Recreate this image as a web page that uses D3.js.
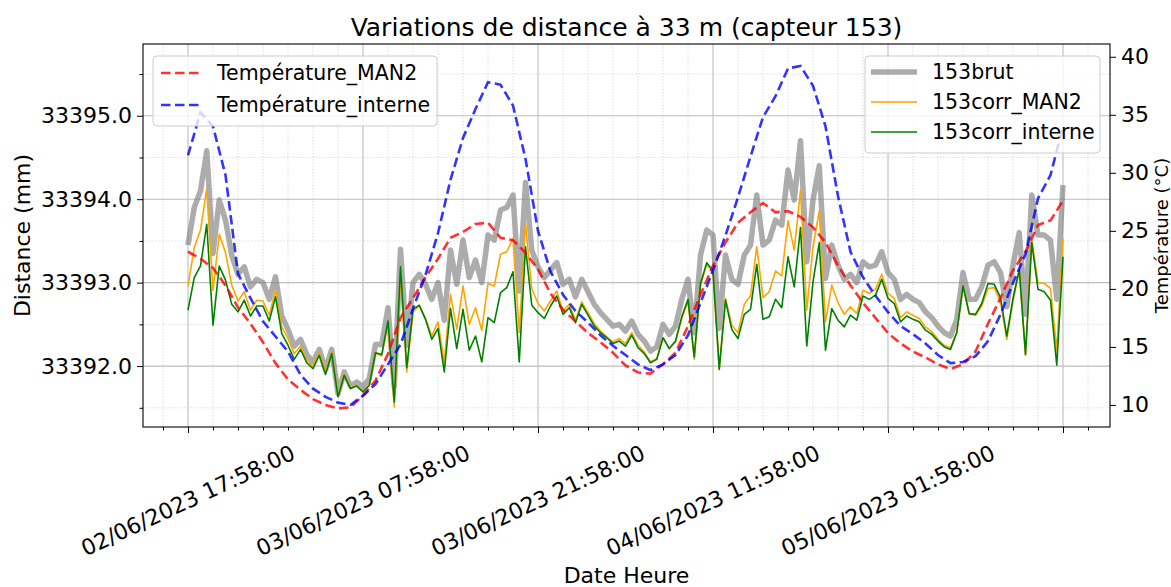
<!DOCTYPE html>
<html>
<head>
<meta charset="utf-8">
<script src="https://cdn.jsdelivr.net/npm/d3@7"></script>
<style>
  body { margin: 0; background: #fff; }
  text { font-family: "DejaVu Sans", sans-serif; fill: #000; }
</style>
</head>
<body>
<div id="chart"></div>
<script>
// distance readings, one every 30 min from 02/06/2023 17:58
var brut = [33393.45,33393.90,33394.10,33394.58,33393.35,33393.99,33393.75,33393.33,33393.10,33393.19,
  33392.95,33393.04,33393.00,33392.80,33393.07,33392.60,33392.44,33392.24,33392.32,33392.14,
  33392.05,33392.20,33391.96,33392.20,33391.67,33391.93,33391.76,33391.81,33391.75,33391.85,
  33392.26,33392.26,33392.70,33391.75,33393.40,33392.25,33393.00,33393.10,33392.98,33392.80,
  33393.00,33392.55,33393.39,33392.98,33393.51,33393.06,33393.27,33393.00,33393.57,33393.51,
  33393.87,33393.90,33394.05,33392.90,33394.20,33393.39,33393.19,33393.06,33393.15,33393.24,
  33392.98,33393.04,33392.83,33393.04,33392.89,33392.74,33392.64,33392.56,33392.48,33392.50,
  33392.42,33392.54,33392.38,33392.30,33392.18,33392.23,33392.50,33392.38,33392.48,33392.80,
  33393.04,33392.40,33393.33,33393.63,33393.57,33392.45,33393.33,33393.04,33392.98,33393.33,
  33393.45,33394.05,33393.45,33393.51,33393.75,33393.69,33394.35,33393.99,33394.70,33393.25,
  33393.99,33394.40,33393.05,33393.45,33393.21,33393.04,33393.10,33393.00,33393.25,33393.19,
  33393.21,33393.37,33393.12,33393.04,33392.80,33392.86,33392.80,33392.76,33392.65,33392.58,
  33392.48,33392.40,33392.36,33392.56,33393.12,33392.80,33392.80,33392.95,33393.21,33393.25,
  33393.12,33392.71,33393.21,33393.60,33392.62,33394.05,33393.57,33393.57,33393.51,33392.80,
  33394.17];

var corrMan2 = [33392.96,33393.42,33393.63,33394.12,33392.91,33393.58,33393.36,33392.97,33392.78,33392.89,
  33392.67,33392.79,33392.78,33392.61,33392.91,33392.47,33392.33,33392.15,33392.24,33392.07,
  33392.00,33392.16,33391.93,33392.17,33391.65,33391.91,33391.73,33391.77,33391.69,33391.77,
  33392.15,33392.12,33392.51,33391.51,33393.11,33391.93,33392.65,33392.72,33392.57,33392.36,
  33392.53,33392.05,33392.86,33392.44,33392.96,33392.50,33392.70,33392.43,33392.99,33392.96,
  33393.34,33393.37,33393.53,33392.40,33393.71,33392.93,33392.75,33392.66,33392.78,33392.90,
  33392.66,33392.74,33392.55,33392.77,33392.64,33392.51,33392.42,33392.35,33392.29,33392.33,
  33392.27,33392.40,33392.25,33392.17,33392.05,33392.09,33392.34,33392.21,33392.29,33392.57,
  33392.77,33392.08,33392.97,33393.22,33393.12,33391.97,33392.81,33392.49,33392.40,33392.74,
  33392.84,33393.43,33392.82,33392.89,33393.14,33393.08,33393.74,33393.39,33394.11,33392.67,
  33393.43,33393.86,33392.53,33392.97,33392.76,33392.62,33392.71,33392.63,33392.91,33392.87,
  33392.92,33393.10,33392.87,33392.81,33392.58,33392.65,33392.61,33392.57,33392.47,33392.41,
  33392.32,33392.25,33392.22,33392.41,33392.96,33392.62,33392.61,33392.72,33392.93,33392.94,
  33392.77,33392.32,33392.78,33393.14,33392.13,33393.52,33393.00,33392.99,33392.93,33392.19,
  33393.53];

var corrInterne = [33392.67,33393.06,33393.20,33393.70,33392.49,33393.20,33393.03,33392.74,33392.65,33392.79,
  33392.60,33392.72,33392.72,33392.54,33392.83,33392.39,33392.25,33392.08,33392.20,33392.04,
  33391.97,33392.13,33391.90,33392.15,33391.63,33391.89,33391.73,33391.76,33391.69,33391.77,
  33392.16,33392.14,33392.54,33391.57,33393.19,33391.98,33392.68,33392.73,33392.56,33392.32,
  33392.45,33391.93,33392.69,33392.21,33392.68,33392.19,33392.36,33392.05,33392.58,33392.52,
  33392.88,33392.94,33393.13,33392.05,33393.43,33392.73,33392.64,33392.57,33392.72,33392.84,
  33392.62,33392.70,33392.52,33392.74,33392.61,33392.48,33392.40,33392.34,33392.27,33392.30,
  33392.24,33392.37,33392.22,33392.15,33392.04,33392.08,33392.34,33392.21,33392.30,33392.59,
  33392.80,33392.11,33392.99,33393.24,33393.14,33391.96,33392.79,33392.44,33392.33,33392.62,
  33392.68,33393.22,33392.56,33392.59,33392.80,33392.70,33393.31,33392.95,33393.66,33392.24,
  33393.01,33393.48,33392.19,33392.69,33392.55,33392.47,33392.61,33392.55,33392.84,33392.80,
  33392.85,33393.04,33392.81,33392.75,33392.53,33392.60,33392.56,33392.53,33392.43,33392.38,
  33392.30,33392.23,33392.20,33392.40,33392.96,33392.63,33392.62,33392.75,33392.99,33392.98,
  33392.82,33392.36,33392.81,33393.16,33392.14,33393.48,33392.92,33392.89,33392.79,33392.01,
  33393.31];

// temperatures, one every hour from the same start
var tempMan2 = [23.2,22.6,21.8,20.3,18.4,17.0,15.4,13.6,12.2,11.3,
  10.5,10.0,9.7,9.8,10.8,12.1,14.4,17.5,19.2,21.0,
  22.6,24.4,24.9,25.6,25.7,24.4,24.2,23.1,21.7,19.6,
  18.2,17.2,16.2,15.4,14.5,13.4,12.8,12.7,13.5,14.5,
  16.8,19.5,22.0,24.0,25.7,26.6,27.4,26.6,26.7,26.2,
  25.3,24.0,22.0,20.3,18.8,17.5,16.2,15.3,14.6,14.1,
  13.5,13.1,13.5,14.6,17.0,19.2,21.6,23.2,25.5,25.9,
  27.6];

var tempInterne = [31.5,35.2,34.0,29.8,21.3,19.2,17.2,15.9,14.6,12.6,
  11.4,10.7,10.2,10.0,10.8,11.8,13.5,15.2,18.3,21.2,
  24.8,29.4,33.0,35.5,37.8,37.6,35.8,31.2,25.0,21.5,
  19.5,18.1,17.1,16.0,15.1,14.3,13.5,13.0,13.5,14.3,
  16.0,18.8,21.6,24.6,27.9,31.4,34.8,36.6,39.0,39.2,
  37.5,34.0,28.0,23.2,21.0,19.4,18.0,16.8,16.1,15.3,
  14.3,13.6,13.7,14.2,15.5,17.8,20.5,23.0,27.8,29.8,
  34.0];

var startDate = new Date(2023, 5, 2, 17, 58, 0);
var distStepMin = 30,
    tempStepMin = 60;

var distTicks = [33392, 33393, 33394, 33395];
var distMinorTicks = [33391.5, 33392.5, 33393.5, 33394.5, 33395.5];
var tempTicks = [10, 15, 20, 25, 30, 35, 40];
var dateTickHours = [0, 14, 28, 42, 56, 70];
var dateLabelCount = 5;

(function() {
  var width = 1171,
      height = 587,
      mLeft = 143, mRight = 1110, mTop = 44, mBottom = 427;

  function addHours(h) { return new Date(startDate.getTime() + h * 3600000); }

  var svg = d3.select("#chart").append("svg")
      .attr("width", width)
      .attr("height", height);

  var x = d3.scaleTime()
      .domain([addHours(-3.6), addHours(73.76)])
      .range([mLeft, mRight]);

  var yL = d3.scaleLinear()
      .domain([33391.27, 33395.86])
      .range([mBottom, mTop]);

  var yR = d3.scaleLinear()
      .domain([8.1, 41.1])
      .range([mBottom, mTop]);

  var fmtDate = d3.timeFormat("%d/%m/%Y %H:%M:%S");

  // minor ticks on x every 2 hours
  var minorHours = [];
  for (var h = -2; h <= 72; h += 2) {
    if (dateTickHours.indexOf(h) < 0) minorHours.push(h);
  }

  // grid
  var grid = svg.append("g");
  grid.selectAll(".gx-minor").data(minorHours).enter().append("line")
    .attr("x1", function(d) { return x(addHours(d)); })
    .attr("x2", function(d) { return x(addHours(d)); })
    .attr("y1", mTop).attr("y2", mBottom)
    .attr("stroke", "#d4d4d4").attr("stroke-width", 0.9)
    .attr("stroke-dasharray", "1.2,2");
  grid.selectAll(".gy-minor").data(distMinorTicks).enter().append("line")
    .attr("x1", mLeft).attr("x2", mRight)
    .attr("y1", function(d) { return yL(d); })
    .attr("y2", function(d) { return yL(d); })
    .attr("stroke", "#d4d4d4").attr("stroke-width", 0.9)
    .attr("stroke-dasharray", "1.2,2");
  grid.selectAll(".gx").data(dateTickHours).enter().append("line")
    .attr("x1", function(d) { return x(addHours(d)); })
    .attr("x2", function(d) { return x(addHours(d)); })
    .attr("y1", mTop).attr("y2", mBottom)
    .attr("stroke", "#bdbdbd").attr("stroke-width", 1.1);
  grid.selectAll(".gy").data(distTicks).enter().append("line")
    .attr("x1", mLeft).attr("x2", mRight)
    .attr("y1", function(d) { return yL(d); })
    .attr("y2", function(d) { return yL(d); })
    .attr("stroke", "#bdbdbd").attr("stroke-width", 1.1);

  // clip to the axes
  svg.append("clipPath").attr("id", "clip")
    .append("rect").attr("x", mLeft).attr("y", mTop)
    .attr("width", mRight - mLeft).attr("height", mBottom - mTop);

  var plot = svg.append("g").attr("clip-path", "url(#clip)");

  var distLine = d3.line()
    .x(function(d, i) { return x(new Date(startDate.getTime() + i * distStepMin * 60000)); })
    .y(function(d) { return yL(d); });

  var tempLine = d3.line()
    .x(function(d, i) { return x(new Date(startDate.getTime() + i * tempStepMin * 60000)); })
    .y(function(d) { return yR(d); });

  plot.append("path").datum(brut)
    .attr("d", distLine)
    .attr("fill", "none")
    .attr("stroke", "#808080")
    .attr("stroke-opacity", 0.65)
    .attr("stroke-width", 5.5)
    .attr("stroke-linejoin", "round");

  plot.append("path").datum(corrMan2)
    .attr("d", distLine)
    .attr("fill", "none")
    .attr("stroke", "#ffa500")
    .attr("stroke-width", 1.6)
    .attr("stroke-linejoin", "round");

  plot.append("path").datum(corrInterne)
    .attr("d", distLine)
    .attr("fill", "none")
    .attr("stroke", "#008000")
    .attr("stroke-width", 1.6)
    .attr("stroke-linejoin", "round");

  plot.append("path").datum(tempMan2)
    .attr("d", tempLine)
    .attr("fill", "none")
    .attr("stroke", "#ff0000")
    .attr("stroke-opacity", 0.8)
    .attr("stroke-width", 2.6)
    .attr("stroke-dasharray", "9.5,4.5");

  plot.append("path").datum(tempInterne)
    .attr("d", tempLine)
    .attr("fill", "none")
    .attr("stroke", "#0000ff")
    .attr("stroke-opacity", 0.8)
    .attr("stroke-width", 2.6)
    .attr("stroke-dasharray", "9.5,4.5");

  // frame
  svg.append("rect")
    .attr("x", mLeft).attr("y", mTop)
    .attr("width", mRight - mLeft).attr("height", mBottom - mTop)
    .attr("fill", "none").attr("stroke", "#000").attr("stroke-width", 1.1);

  // left axis
  var axL = svg.append("g").attr("transform", "translate(" + mLeft + ",0)")
    .call(d3.axisLeft(yL).tickValues(distTicks).tickFormat(d3.format(".1f")).tickSize(6).tickPadding(5));
  svg.append("g").attr("transform", "translate(" + mLeft + ",0)")
    .call(d3.axisLeft(yL).tickValues(distMinorTicks).tickFormat("").tickSize(3.5));

  // right axis
  var axR = svg.append("g").attr("transform", "translate(" + mRight + ",0)")
    .call(d3.axisRight(yR).tickValues(tempTicks).tickSize(6).tickPadding(5));

  // bottom axis
  svg.append("g").attr("transform", "translate(0," + mBottom + ")")
    .call(d3.axisBottom(x).tickValues(dateTickHours.map(addHours)).tickFormat("").tickSize(6));
  svg.append("g").attr("transform", "translate(0," + mBottom + ")")
    .call(d3.axisBottom(x).tickValues(minorHours.map(addHours)).tickFormat("").tickSize(3.5));

  svg.selectAll(".domain").remove();
  svg.selectAll(".tick line").attr("stroke", "#000").attr("stroke-width", 1);
  axL.selectAll("text").style("font-size", "22px").attr("font-family", null).attr("fill", "#000");
  axR.selectAll("text").style("font-size", "22px").attr("font-family", null).attr("fill", "#000");

  // rotated date labels
  var angle = 25,
      rad = angle * Math.PI / 180;
  var labels = svg.append("g");
  dateTickHours.slice(0, dateLabelCount).forEach(function(h) {
    var t = labels.append("text")
      .attr("text-anchor", "middle")
      .attr("dominant-baseline", "central")
      .style("font-size", "22px")
      .text(fmtDate(addHours(h)));
    var w = t.node().getComputedTextLength();
    var halfH = (w * Math.sin(rad) + 22 * 1.05 * Math.cos(rad)) / 2;
    t.attr("transform", "translate(" + x(addHours(h)) + "," + (441 + halfH) + ") rotate(" + (-angle) + ")");
  });

  // titles
  svg.append("text")
    .attr("x", (mLeft + mRight) / 2).attr("y", 36)
    .attr("text-anchor", "middle")
    .style("font-size", "25px")
    .text("Variations de distance à 33 m (capteur 153)");

  svg.append("text")
    .attr("x", (mLeft + mRight) / 2).attr("y", 583)
    .attr("text-anchor", "middle")
    .style("font-size", "22px")
    .text("Date Heure");

  svg.append("text")
    .attr("transform", "translate(30," + ((mTop + mBottom) / 2) + ") rotate(-90)")
    .attr("text-anchor", "middle")
    .style("font-size", "22px")
    .text("Distance (mm)");

  svg.append("text")
    .attr("transform", "translate(1168," + ((mTop + mBottom) / 2) + ") rotate(-90)")
    .attr("text-anchor", "middle")
    .style("font-size", "18px")
    .text("Température (°C)");

  // legends
  function legend(g, box, items) {
    g.append("rect")
      .attr("x", box.x).attr("y", box.y)
      .attr("width", box.w).attr("height", box.h)
      .attr("rx", 4)
      .attr("fill", "#fff").attr("fill-opacity", 0.8)
      .attr("stroke", "#cccccc");
    items.forEach(function(d, i) {
      var yy = box.y + box.first + i * box.gap;
      g.append("line")
        .attr("x1", box.x + box.lx1).attr("x2", box.x + box.lx2)
        .attr("y1", yy).attr("y2", yy)
        .attr("stroke", d.color)
        .attr("stroke-opacity", d.opacity)
        .attr("stroke-width", d.width)
        .attr("stroke-dasharray", d.dash);
      g.append("text")
        .attr("x", box.x + box.tx).attr("y", yy)
        .attr("dominant-baseline", "central")
        .style("font-size", "20.5px")
        .text(d.label);
    });
  }

  legend(svg.append("g"), { x: 153, y: 56, w: 284, h: 70, first: 17, gap: 32, lx1: 8, lx2: 46, tx: 64 }, [
    { label: "Température_MAN2", color: "#ff0000", opacity: 0.8, width: 2.6, dash: "9.5,4.5" },
    { label: "Température_interne", color: "#0000ff", opacity: 0.8, width: 2.6, dash: "9.5,4.5" }
  ]);

  legend(svg.append("g"), { x: 865, y: 56, w: 235, h: 97, first: 16, gap: 30, lx1: 6, lx2: 52, tx: 67 }, [
    { label: "153brut", color: "#808080", opacity: 0.65, width: 5.5, dash: null },
    { label: "153corr_MAN2", color: "#ffa500", opacity: 1, width: 1.6, dash: null },
    { label: "153corr_interne", color: "#008000", opacity: 1, width: 1.6, dash: null }
  ]);
})();
</script>
</body>
</html>
